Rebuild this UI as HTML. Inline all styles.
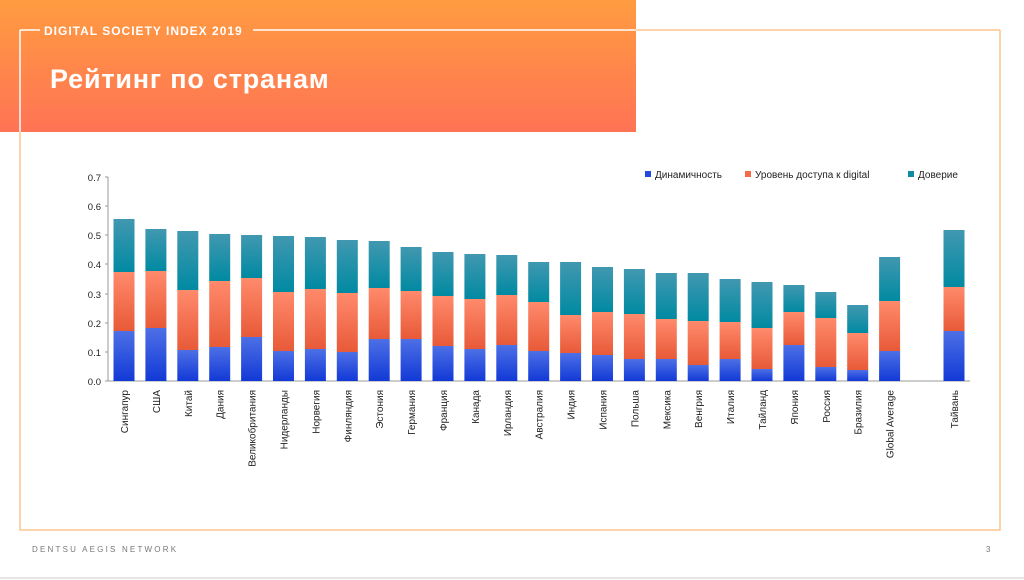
<!DOCTYPE html>
<html><head><meta charset="utf-8"><style>
html,body{margin:0;padding:0;background:#fff;}
body{width:1024px;height:580px;position:relative;overflow:hidden;font-family:"Liberation Sans","DejaVu Sans",sans-serif;}
</style></head><body>
<svg width="1024" height="580" xmlns="http://www.w3.org/2000/svg" style="position:absolute;left:0;top:0">
<defs>
<linearGradient id="hd" x1="0" y1="0" x2="0" y2="1"><stop offset="0" stop-color="#ff9c40"/><stop offset="1" stop-color="#ff7355"/></linearGradient>
<linearGradient id="gb" x1="0" y1="0" x2="0" y2="1"><stop offset="0" stop-color="#4d70e6"/><stop offset="1" stop-color="#1239d6"/></linearGradient>
<linearGradient id="go" x1="0" y1="0" x2="0" y2="1"><stop offset="0" stop-color="#ff8a6c"/><stop offset="1" stop-color="#e85a38"/></linearGradient>
<linearGradient id="gt" x1="0" y1="0" x2="0" y2="1"><stop offset="0" stop-color="#4198b0"/><stop offset="1" stop-color="#008aa2"/></linearGradient>
</defs>
<rect x="0" y="0" width="636" height="132" fill="url(#hd)"/>
<polyline points="1000,30 1000,530 20,530 20,132" fill="none" stroke="#fcc68e" stroke-width="1.5"/>
<line x1="20" y1="30" x2="20" y2="132" stroke="#fff" stroke-width="1.5"/>
<line x1="20" y1="30" x2="40" y2="30" stroke="#fff" stroke-width="1.5"/>
<line x1="253" y1="30" x2="636" y2="30" stroke="#fff" stroke-width="1.5"/>
<line x1="636" y1="30" x2="1000" y2="30" stroke="#fcc68e" stroke-width="1.5"/>
<text x="44" y="35" fill="#fff" font-size="12" font-weight="bold" letter-spacing="1">DIGITAL SOCIETY INDEX 2019</text>
<text x="50" y="88" fill="#fff" font-size="27" font-weight="bold" letter-spacing="0.8">Рейтинг по странам</text>
<text x="32" y="552" fill="#777" font-size="8" letter-spacing="2.2">DENTSU AEGIS NETWORK</text>
<text x="986" y="552" fill="#777" font-size="8">3</text>
<line x1="0" y1="578" x2="1024" y2="578" stroke="#ccc"/>
<g font-size="9.5" fill="#222" text-anchor="end">
<text x="101" y="385">0.0</text><text x="101" y="356">0.1</text><text x="101" y="327">0.2</text><text x="101" y="298">0.3</text><text x="101" y="268">0.4</text><text x="101" y="239">0.5</text><text x="101" y="210">0.6</text><text x="101" y="181">0.7</text>
</g>
<g stroke="#999"><line x1="108" y1="177" x2="108" y2="381"/><line x1="108" y1="381" x2="970" y2="381"/>
<line x1="105" y1="177" x2="108" y2="177"/><line x1="105" y1="206" x2="108" y2="206"/><line x1="105" y1="235" x2="108" y2="235"/><line x1="105" y1="264" x2="108" y2="264"/><line x1="105" y1="294" x2="108" y2="294"/><line x1="105" y1="323" x2="108" y2="323"/><line x1="105" y1="352" x2="108" y2="352"/><line x1="105" y1="381" x2="108" y2="381"/></g>
<g id="bars"></g>
<g font-size="10" fill="#222">
<rect x="645" y="171" width="6" height="6" fill="#2448dd"/><text x="655" y="178">Динамичность</text>
<rect x="745" y="171" width="6" height="6" fill="#f56a48"/><text x="755" y="178">Уровень доступа к digital</text>
<rect x="908" y="171" width="6" height="6" fill="#0f8ba3"/><text x="918" y="178">Доверие</text>
</g>
<g id="labels" font-size="10" fill="#222" text-anchor="end"></g>
</svg>
<script>
var d=[["Сингапур",331,272,219],["США",328,271,229],["Китай",350,290,231],["Дания",347,281,234],["Великобритания",337,278,235],["Нидерланды",351,292,236],["Норвегия",349,289,237],["Финляндия",352,293,240],["Эстония",339,288,241],["Германия",339,291,247],["Франция",346,296,252],["Канада",349,299,254],["Ирландия",345,295,255],["Австралия",351,302,262],["Индия",353,315,262],["Испания",355,312,267],["Польша",359,314,269],["Мексика",359,319,273],["Венгрия",365,321,273],["Италия",359,322,279],["Тайланд",369,328,282],["Япония",345,312,285],["Россия",367,318,292],["Бразилия",370,333,305],["Global Average",351,301,257]];
var ns="http://www.w3.org/2000/svg",b=document.getElementById("bars"),l=document.getElementById("labels");
function r(x,y,h,f){var e=document.createElementNS(ns,"rect");e.setAttribute("x",x);e.setAttribute("y",y);e.setAttribute("width",21);e.setAttribute("height",h);e.setAttribute("fill",f);b.appendChild(e);}
function bar(c,v){var x=c-10.5;r(x,v[1],381-v[1],"url(#gb)");r(x,v[2],v[1]-v[2],"url(#go)");r(x,v[3],v[2]-v[3],"url(#gt)");
var t=document.createElementNS(ns,"text");t.setAttribute("transform","translate("+(c+4)+",390) rotate(-90)");t.textContent=v[0];l.appendChild(t);}
d.forEach(function(v,i){bar(124+i*31.9,v);});
bar(954,["Тайвань",331,287,230]);
</script>
</body></html>
